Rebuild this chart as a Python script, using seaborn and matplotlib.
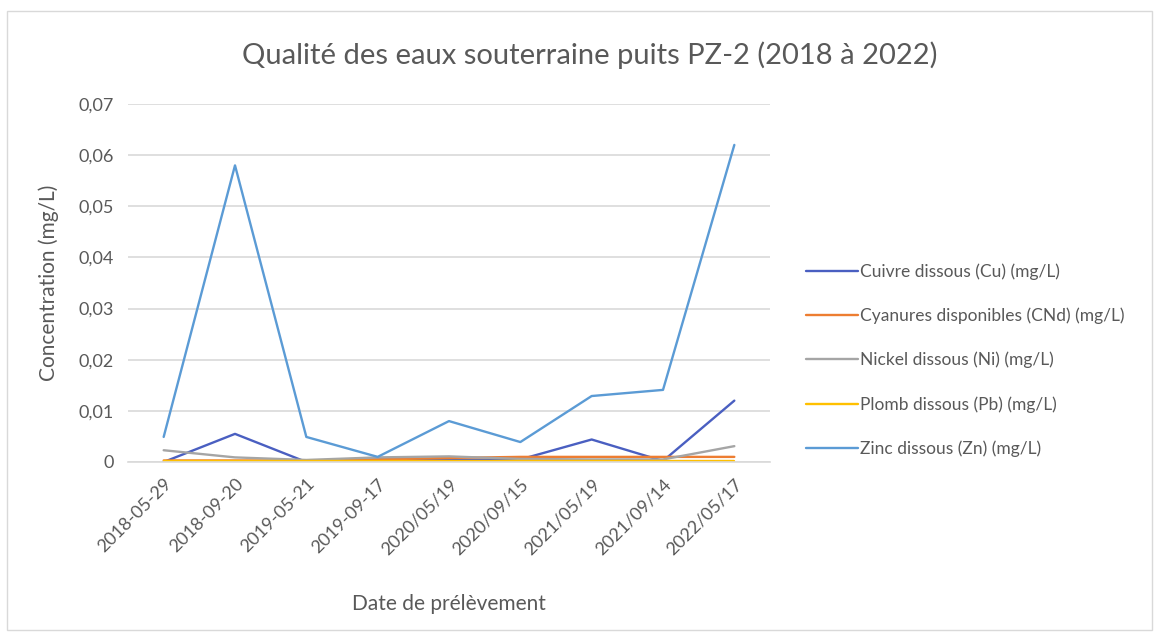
import matplotlib
matplotlib.use("Agg")
import matplotlib.pyplot as plt
from matplotlib.patches import Rectangle
from matplotlib.ticker import FuncFormatter
import numpy as np
import pandas as pd
import seaborn as sns

sns.set_style("white")
plt.rcParams['font.family'] = ['Lato', 'DejaVu Sans']

dates = ['2018-05-29', '2018-09-20', '2019-05-21', '2019-09-17', '2020/05/19',
         '2020/09/15', '2021/05/19', '2021/09/14', '2022/05/17']

cuivre = [0.0, 0.0055, 0.0, 0.0005, 0.0004, 0.0005, 0.0044, 0.0002, 0.012]
cyanures = [0.0003, 0.0003, 0.0003, 0.0005, 0.0008, 0.001, 0.001, 0.001, 0.001]
nickel = [0.0023, 0.0009, 0.0004, 0.0009, 0.0011, 0.0006, 0.0005, 0.0005, 0.0031]
plomb = [0.0002, 0.0002, 0.0002, 0.0002, 0.0002, 0.0002, 0.0002, 0.0002, 0.0002]
zinc = [0.0049, 0.058, 0.0049, 0.001, 0.008, 0.0039, 0.0129, 0.0141, 0.062]

series = ['Cuivre dissous (Cu) (mg/L)', 'Cyanures disponibles (CNd) (mg/L)',
          'Nickel dissous (Ni) (mg/L)', 'Plomb dissous (Pb) (mg/L)',
          'Zinc dissous (Zn) (mg/L)']
colors = ['#4a5fc1', '#ed7d31', '#a5a5a5', '#ffc000', '#5b9bd5']

rows = []
for name, vals in zip(series, [cuivre, cyanures, nickel, plomb, zinc]):
    for i, v in enumerate(vals):
        rows.append({'idx': i, 'val': v, 'serie': name})
df = pd.DataFrame(rows)

fig = plt.figure(figsize=(11.69, 6.36), dpi=100)
fig.patches.append(Rectangle((7 / 1169, 1 - 630 / 636), 1145 / 1169, 619 / 636,
                             transform=fig.transFigure, fill=False,
                             edgecolor='#d9d9d9', linewidth=1.0))
ax = fig.add_axes([128 / 1169, 1 - 462 / 636, 642 / 1169, 358 / 636])

sns.lineplot(data=df, x='idx', y='val', hue='serie', hue_order=series,
             palette=colors, linewidth=1.7, ax=ax, legend=True)

txt = '#595959'
ax.set_xlim(-0.5, 8.5)
ax.set_ylim(0, 0.07)
ax.set_yticks(np.arange(0, 0.071, 0.01))
ax.yaxis.set_major_formatter(FuncFormatter(
    lambda v, p: '0' if abs(v) < 1e-9 else ('%.2f' % v).replace('.', ',')))
ax.set_xticks(range(len(dates)))
ax.set_xticklabels(dates, rotation=45, ha='right', rotation_mode='anchor')
ax.tick_params(axis='both', length=0, labelsize=13, colors=txt, pad=10)
ax.grid(axis='y', color='#d9d9d9', linewidth=1.2)
ax.set_axisbelow(True)
for s in ['top', 'right', 'left']:
    ax.spines[s].set_visible(False)
ax.spines['bottom'].set_color('#d9d9d9')
ax.spines['bottom'].set_linewidth(1.2)

ax.set_xlabel('Date de prélèvement', fontsize=15, color=txt, labelpad=26)
ax.set_ylabel('Concentration (mg/L)', fontsize=15, color=txt, labelpad=14)
fig.text(590 / 1169, 1 - 55 / 636, 'Qualité des eaux souterraine puits PZ-2 (2018 à 2022)',
         ha='center', va='center', fontsize=21, color=txt)

handles, labels = ax.get_legend_handles_labels()
leg = ax.legend(handles, labels, loc='center left',
                bbox_to_anchor=(790 / 1169, 1 - 360 / 636),
                bbox_transform=fig.transFigure, frameon=False,
                fontsize=12.5, handlelength=3.0, handletextpad=0.15,
                labelspacing=1.6)
for t in leg.get_texts():
    t.set_color(txt)

fig.savefig('out.png', dpi=100)
